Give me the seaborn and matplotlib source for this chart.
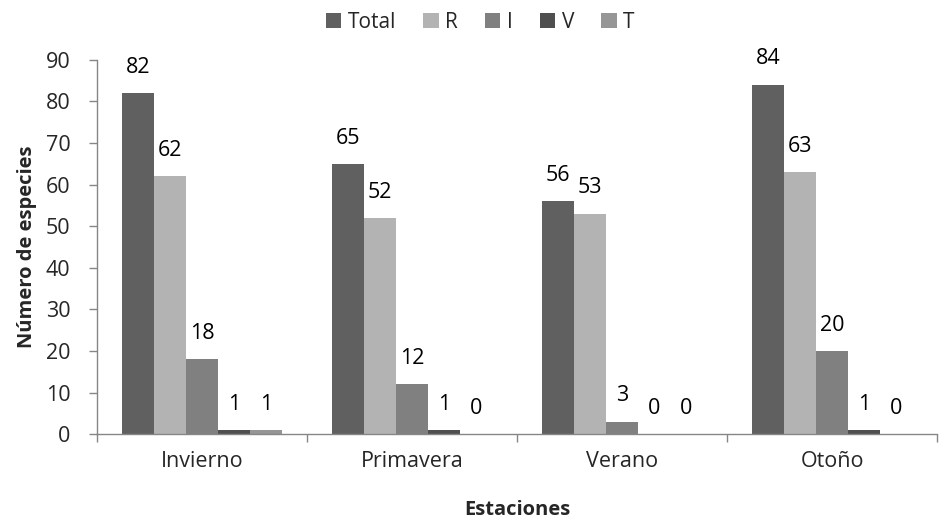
import matplotlib
matplotlib.use("Agg")
import matplotlib.pyplot as plt
import seaborn as sns
import pandas as pd

estaciones = ["Invierno", "Primavera", "Verano", "Otoño"]
series = ["Total", "R", "I", "V", "T"]
total = [82, 65, 56, 84]
r_vals = [62, 52, 53, 63]
i_vals = [18, 12, 3, 20]
v_vals = [1, 1, 0, 1]
t_vals = [1, 0, 0, 0]
colors = ["#606060", "#b3b3b3", "#808080", "#4f4f4f", "#969696"]

rows = []
for s, vals in zip(series, [total, r_vals, i_vals, v_vals, t_vals]):
    for e, v in zip(estaciones, vals):
        rows.append({"Estacion": e, "Serie": s, "Valor": v})
df = pd.DataFrame(rows)

sns.set_style("white")
plt.rcParams["font.family"] = ["Open Sans", "DejaVu Sans"]

fig = plt.figure(figsize=(9.41, 5.2), dpi=100)
ax = fig.add_axes([0.103, 0.165, 0.893, 0.72])
sns.barplot(data=df, x="Estacion", y="Valor", hue="Serie", order=estaciones,
            hue_order=series, palette=colors, width=0.76, gap=0,
            saturation=1, ax=ax, edgecolor="none", linewidth=0, legend=True)

for c in ax.containers:
    ax.bar_label(c, fmt="%d", padding=11, fontsize=15.5, color="black")

ax.set_ylim(0, 90)
ax.set_yticks(range(0, 91, 10))
ax.set_xlim(-0.5, 3.5)
ax.tick_params(axis="y", labelsize=15.5, length=6, width=1, color="#868686", direction="out", left=True, pad=13)
ax.tick_params(axis="x", labelsize=15.5, length=0, pad=12)
ax.set_xticks([-0.5, 0.5, 1.5, 2.5, 3.5], minor=True)
ax.tick_params(axis="x", which="minor", length=6, width=1, color="#868686", bottom=True, direction="out")
for s in ["top", "right"]:
    ax.spines[s].set_visible(False)
for s in ["left", "bottom"]:
    ax.spines[s].set_color("#868686")
    ax.spines[s].set_linewidth(1)
ax.set_xlabel("Estaciones", fontsize=14.5, fontweight="bold", labelpad=20)
ax.set_ylabel("Número de especies", fontsize=14.5, fontweight="bold", labelpad=6)

ax.legend(loc="center", bbox_to_anchor=(0.456, 1.10), ncol=5, frameon=False,
          fontsize=15, handlelength=0.75, handleheight=0.75, handletextpad=0.3,
          columnspacing=1.3, borderaxespad=0.0, borderpad=0.0)

fig.savefig("out.png", dpi=100)
